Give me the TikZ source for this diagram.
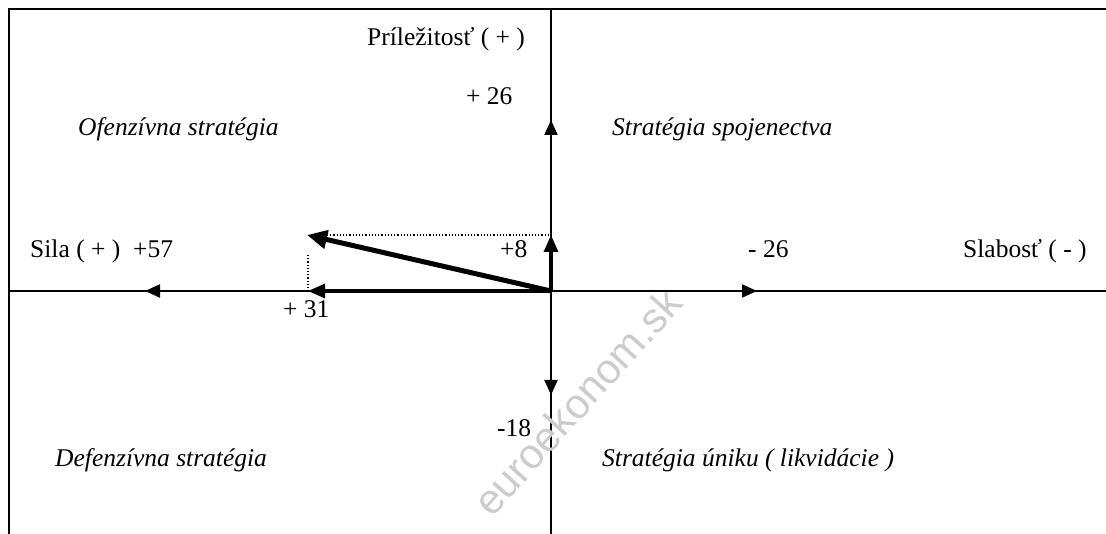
\documentclass[tikz,border=0pt]{standalone}
\usepackage{fontspec}
\setmainfont{Liberation Serif}
\newfontfamily\wmfont{Liberation Sans}
\usepackage{tikz}
\usetikzlibrary{arrows.meta}

\tikzset{
  lbl/.style={anchor=base west, inner sep=0pt, font=\fontsize{25.5}{30}\selectfont},
  qlbl/.style={lbl, font=\fontsize{25.5}{30}\selectfont\itshape},
  axis/.style={line width=1.5pt},
  vec/.style={line width=2pt, -{Triangle[length=15pt,width=13pt]}},
  bigvec/.style={line width=3.2pt, -{Triangle[length=17pt,width=14pt]}},
  resvec/.style={line width=5pt, -{Triangle[length=20pt,width=18pt]}},
  helper/.style={line width=1.2pt, dotted}
}

\begin{document}
\begin{tikzpicture}[x=1pt, y=-1pt]
                \useasboundingbox (0,0) rectangle (1106,534);

                % Frame and axes
                \coordinate (tl) at (9,9);
                \coordinate (tr) at (1106,9);
                \coordinate (bl) at (9,534);
                \draw[line width=2pt] (bl)--(tl)--(tr);
                \coordinate (o) at (551,291);
                \coordinate (xl) at (9,291);
                \coordinate (xr) at (1106,291);
                \coordinate (yt) at (551,9);
                \coordinate (yb) at (551,534);
                \draw[axis] (xl)--(xr);
                \draw[axis] (yt)--(yb);

                % Arrow tips
                \coordinate (s57) at (145,291);
                \coordinate (s31) at (308,291);
                \coordinate (w26) at (757,291);
                \coordinate (p26) at (551,120);
                \coordinate (p8) at (551,235);
                \coordinate (h18) at (551,395);
                \coordinate (res) at (307,235);
                \coordinate (dh) at (327,235);
                \coordinate (dv) at (308,255);

                % Nodes
                \node[lbl] (prl) at (367,46) {Príležitosť ( + )};
                \node[lbl] (n26) at (466,105) {+ 26};
                \node[qlbl] (ofs) at (78,136) {Ofenzívna stratégia};
                \node[qlbl] (sps) at (612,136) {Stratégia spojenectva};
                \node[lbl] (sil) at (30,258) {Sila ( + ) \ +57};
                \node[lbl] (n8) at (500,258) {+8};
                \node[lbl] (m26) at (748,258) {- 26};
                \node[lbl] (slb) at (963,258) {Slabosť ( - )};
                \node[lbl] (n31) at (283,318) {+ 31};
                \node[lbl] (m18) at (497,437) {-18};
                \node[qlbl] (dfs) at (55,467) {Defenzívna stratégia};
                \node[qlbl] (uns) at (602,467) {Stratégia úniku ( likvidácie )};
                \node[rotate=48, text=gray!40, font=\wmfont\fontsize{42}{44}\selectfont] (wm) at (577,402) {euroekonom.sk};

                % Edges
                \draw[vec] (o)--(s57);
                \draw[vec] (o)--(w26);
                \draw[vec] (o)--(p26);
                \draw[vec] (o)--(h18);
                \draw[bigvec] (o)--(s31);
                \draw[bigvec] (o)--(p8);
                \draw[helper] (dh)--(p8);
                \draw[helper] (dv)--(s31);
                \draw[resvec] (o)--(res);
            \end{tikzpicture}
\end{document}
